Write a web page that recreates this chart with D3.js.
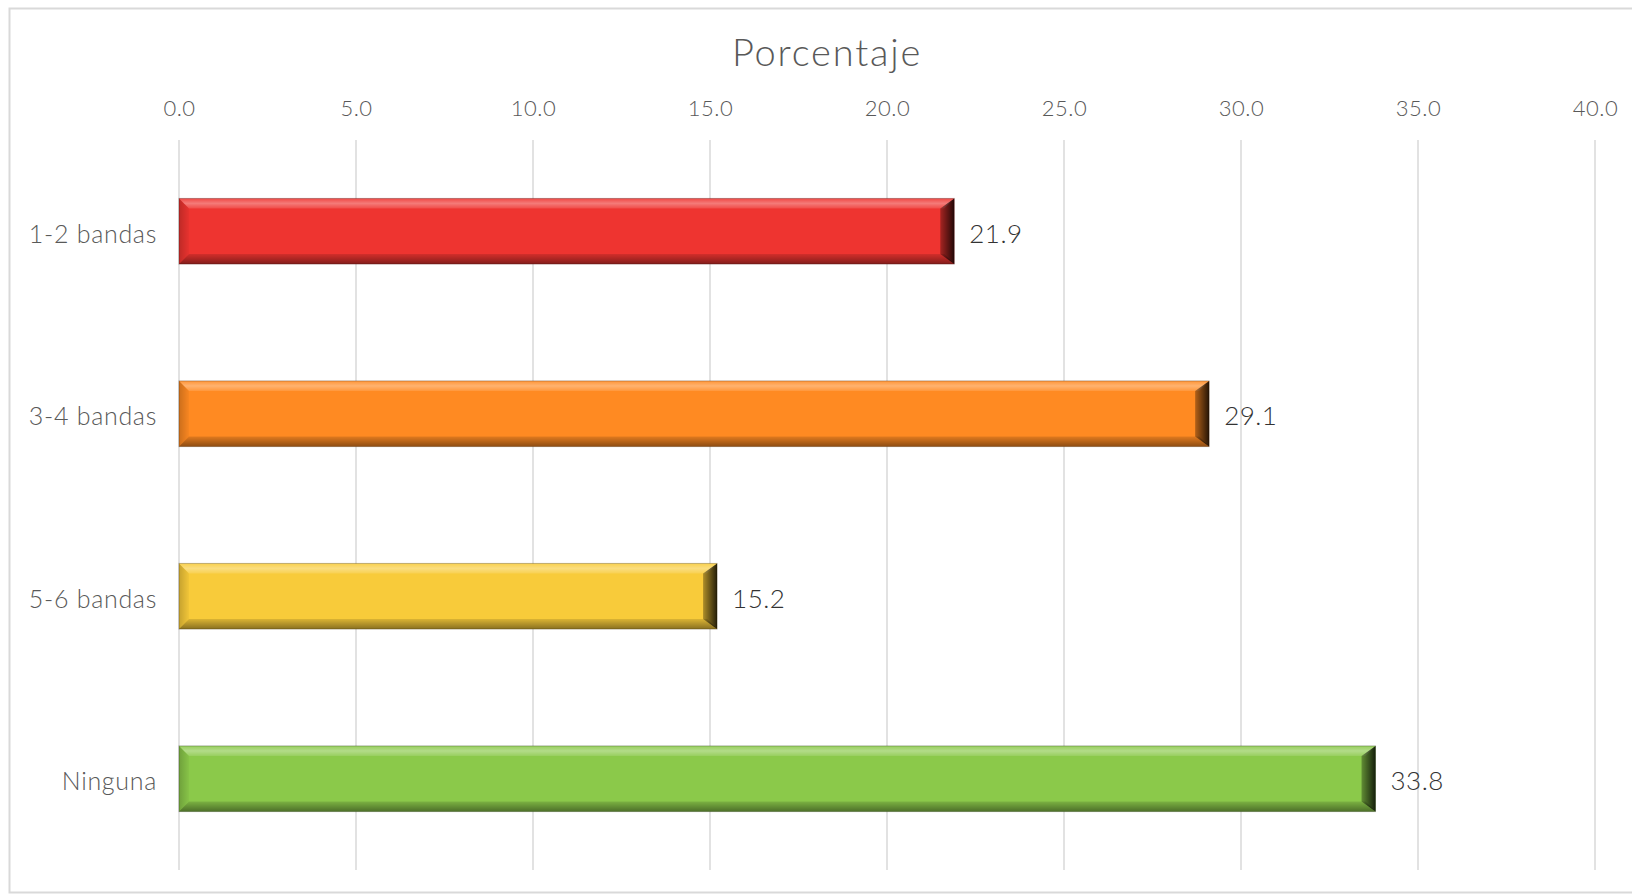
<!DOCTYPE html>
<html><head><meta charset="utf-8">
<script src="https://cdn.jsdelivr.net/npm/d3@7"></script>
<style>
html,body{margin:0;padding:0;background:#fff;}
svg{display:block;}
text{font-family:"Century Gothic","URW Gothic","Lato","Open Sans",sans-serif;font-weight:300;}
</style></head>
<body><svg id="c" width="1632" height="894"></svg>
<script>
const categories = ["1-2 bandas","3-4 bandas","5-6 bandas","Ninguna"];
const values = [21.9, 29.1, 15.2, 33.8];
const colors = ["#EE3430","#FF8A22","#F8CB3A","#8BC94A"];
const tickValues = [0,5,10,15,20,25,30,35,40];
const title = "Porcentaje";

const FF = '"Century Gothic","URW Gothic","Lato","Open Sans",sans-serif';
const svg = d3.select("#c");
const W = 1632, H = 894;
const m = {left:179, right:1595, top:140, bottom:870};

svg.append("rect").attr("x",9.5).attr("y",8.5).attr("width",W+10).attr("height",H-10)
  .attr("fill","#fff").attr("stroke","#d9d9d9").attr("stroke-width",2);

const x = d3.scaleLinear().domain([0,40]).range([m.left,m.right]);
const y = d3.scaleBand().domain(categories).range([m.top,m.bottom]).paddingInner(0.64).paddingOuter(0.32);

// gridlines
svg.append("g").selectAll("line").data(tickValues).join("line")
  .attr("x1",d=>x(d)).attr("x2",d=>x(d)).attr("y1",m.top).attr("y2",m.bottom)
  .attr("stroke","#d9d9d9").attr("stroke-width",1.5);

// top axis labels
const ax = svg.append("g").attr("transform",`translate(0,${m.top})`)
  .call(d3.axisTop(x).tickValues(tickValues).tickFormat(d3.format(".1f")).tickSize(0).tickPadding(24));
ax.select(".domain").remove();
ax.selectAll("text").attr("font-size",22).attr("fill","#595959")
  .style("font-family",FF).style("font-weight",300).style("letter-spacing","0.5px");

// category labels
const ay = svg.append("g").attr("transform",`translate(${m.left},0)`)
  .call(d3.axisLeft(y).tickSize(0).tickPadding(22));
ay.select(".domain").remove();
ay.selectAll("text").attr("font-size",25).attr("fill","#595959").attr("dy","0.45em")
  .style("font-family",FF).style("font-weight",300).style("letter-spacing","0.7px");

// title
svg.append("text").attr("x",(m.left+m.right)/2 - 60).attr("y",66).attr("text-anchor","middle")
  .attr("font-size",38).attr("fill","#595959").style("letter-spacing","1.8px").text(title);

// gradients
const defs = svg.append("defs");
const gTop = defs.append("linearGradient").attr("id","gTop").attr("x1",0).attr("y1",0).attr("x2",0).attr("y2",1);
gTop.append("stop").attr("offset","0%").attr("stop-color","#fff").attr("stop-opacity",0.1);
gTop.append("stop").attr("offset","50%").attr("stop-color","#fff").attr("stop-opacity",0.35);
gTop.append("stop").attr("offset","100%").attr("stop-color","#fff").attr("stop-opacity",0.12);
const gBot = defs.append("linearGradient").attr("id","gBot").attr("x1",0).attr("y1",0).attr("x2",0).attr("y2",1);
gBot.append("stop").attr("offset","0%").attr("stop-color","#000").attr("stop-opacity",0.12);
gBot.append("stop").attr("offset","100%").attr("stop-color","#000").attr("stop-opacity",0.45);
const gRight = defs.append("linearGradient").attr("id","gRight").attr("x1",0).attr("y1",0).attr("x2",1).attr("y2",0);
gRight.append("stop").attr("offset","0%").attr("stop-color","#000").attr("stop-opacity",0.3);
gRight.append("stop").attr("offset","100%").attr("stop-color","#000").attr("stop-opacity",0.85);
const gLeft = defs.append("linearGradient").attr("id","gLeft").attr("x1",0).attr("y1",0).attr("x2",1).attr("y2",0);
gLeft.append("stop").attr("offset","0%").attr("stop-color","#000").attr("stop-opacity",0.2);
gLeft.append("stop").attr("offset","100%").attr("stop-color","#000").attr("stop-opacity",0.03);

const data = categories.map((c,i)=>({c, v:values[i], col:colors[i]}));
const bars = svg.append("g").selectAll("g").data(data).join("g");
const b = 10;
bars.append("rect").attr("x",x(0)).attr("y",d=>y(d.c)).attr("width",d=>x(d.v)-x(0)).attr("height",y.bandwidth())
  .attr("fill",d=>d.col);
bars.append("path").attr("fill","url(#gTop)").attr("d",d=>{
  const x0=x(0),x1=x(d.v),y0=y(d.c);
  return `M${x0},${y0}L${x1},${y0}L${x1-b},${y0+b}L${x0+b},${y0+b}Z`;});
bars.append("path").attr("fill","url(#gBot)").attr("d",d=>{
  const x0=x(0),x1=x(d.v),y1=y(d.c)+y.bandwidth();
  return `M${x0},${y1}L${x1},${y1}L${x1-b},${y1-b}L${x0+b},${y1-b}Z`;});
bars.append("path").attr("fill","url(#gLeft)").attr("d",d=>{
  const x0=x(0),y0=y(d.c),y1=y0+y.bandwidth();
  return `M${x0},${y0}L${x0+b},${y0+b}L${x0+b},${y1-b}L${x0},${y1}Z`;});
bars.append("path").attr("fill","url(#gRight)").attr("d",d=>{
  const x1=x(d.v),y0=y(d.c),y1=y0+y.bandwidth();
  return `M${x1},${y0}L${x1-b-4},${y0+b}L${x1-b-4},${y1-b}L${x1},${y1}Z`;});
bars.append("rect").attr("x",x(0)).attr("y",d=>y(d.c)).attr("width",d=>x(d.v)-x(0)).attr("height",y.bandwidth())
  .attr("fill","none").attr("stroke","rgba(0,0,0,0.25)").attr("stroke-width",1);

// value labels
bars.append("text").attr("x",d=>x(d.v)+15).attr("y",d=>y(d.c)+y.bandwidth()/2).attr("dy","0.45em")
  .attr("font-size",26).attr("fill","#333333").style("font-weight",300).style("letter-spacing","0.5px").text(d=>d3.format(".1f")(d.v));
</script></body></html>
